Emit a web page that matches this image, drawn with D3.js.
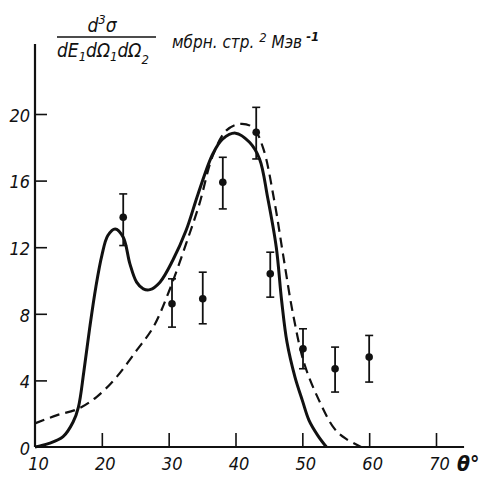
<!DOCTYPE html>
<html>
<head>
<meta charset="utf-8">
<script src="https://cdn.jsdelivr.net/npm/d3@7"></script>
<style>
  body { margin: 0; background: #fff; }
  svg text { font-family: "Liberation Sans Narrow", "DejaVu Sans Condensed", "Liberation Sans", sans-serif; font-style: italic; fill: #111; }
</style>
</head>
<body>
<div id="chart"></div>
<script>
// measured points with error bars
const pointAngles = [23.2, 30.5, 35.1, 38.1, 43.1, 45.2, 50.1, 54.9, 60.0]
const pointValues = [13.8, 8.6, 8.9, 15.9, 18.9, 10.4, 5.9, 4.7, 5.4]
const errLow = [12.1, 7.2, 7.4, 14.3, 17.3, 9.0, 4.7, 3.3, 3.9]
const errHigh = [15.2, 10.1, 10.5, 17.4, 20.4, 11.7, 7.1, 6.0, 6.7]

// solid theory curve
const solidAngles = [10, 12, 14.2, 15.7, 16.5, 17.3, 18.2, 19.1, 20.0, 20.9, 22.0, 23.2, 24.2, 25.2, 26.2, 27.2, 28.7, 30.6, 32.6, 34.4, 36.6, 38.1, 40.0, 42.1, 43.6, 44.8, 46.1, 46.9, 47.7, 48.9, 50.0, 51.0, 52.3, 53.6]
const solidValues = [0, 0.2, 0.62, 1.5, 2.4, 4.5, 7.2, 9.6, 11.5, 12.7, 13.1, 12.6, 11.0, 9.9, 9.5, 9.45, 9.9, 11.2, 13.0, 15.2, 17.6, 18.5, 18.85, 18.3, 17.3, 15.0, 12.0, 8.8, 6.3, 4.2, 2.8, 1.6, 0.7, 0]

// dashed theory curve
const dashedAngles = [10, 13.2, 16.5, 19.2, 22.2, 25.2, 27.7, 30.1, 32.6, 34.6, 36.6, 38.6, 40.6, 42.6, 44.1, 45.8, 47.1, 48.6, 50.3, 52.5, 54.8, 56.5, 58.8]
const dashedValues = [1.42, 1.9, 2.3, 3.0, 4.2, 5.8, 7.2, 9.4, 12.2, 14.6, 17.5, 19.0, 19.4, 19.2, 18.0, 14.8, 11.6, 8.0, 5.0, 2.8, 1.1, 0.5, 0]

const xTicks = [10, 20, 30, 40, 50, 60, 70]
const yTicks = [0, 4, 8, 12, 16, 20]

const width = 483, height = 478

const svg = d3.select("#chart").append("svg")
  .attr("width", width)
  .attr("height", height)

const x = d3.scaleLinear().domain([10, 70]).range([35, 436])
const y = d3.scaleLinear().domain([0, 20]).range([447, 114])

// axes: ticks point inward
const xAxis = svg.append("g")
  .attr("transform", `translate(0, ${y(0)})`)
  .call(d3.axisBottom(x).tickValues(xTicks).tickSizeInner(-14).tickSizeOuter(0).tickPadding(23))
xAxis.select(".domain").remove()
xAxis.selectAll("line").attr("stroke", "#111").attr("stroke-width", 1.6)
xAxis.selectAll("line").filter(d => d === 10).remove()
xAxis.selectAll("text").attr("font-size", 18).attr("dx", 3).attr("dy", 0).style("font-family", null)

const yAxis = svg.append("g")
  .attr("transform", `translate(${x(10)}, 0)`)
  .call(d3.axisLeft(y).tickValues(yTicks).tickSizeInner(-12).tickSizeOuter(0).tickPadding(5))
yAxis.select(".domain").remove()
yAxis.selectAll("line").attr("stroke", "#111").attr("stroke-width", 1.6)
yAxis.selectAll("line").filter(d => d === 0).remove()
yAxis.selectAll("text").attr("font-size", 18).attr("dy", "0.4em").style("font-family", null)

svg.append("line")
  .attr("x1", x(10)).attr("x2", x(74.2))
  .attr("y1", y(0)).attr("y2", y(0))
  .attr("stroke", "#111").attr("stroke-width", 2.2)
svg.append("line")
  .attr("x1", x(10)).attr("x2", x(10))
  .attr("y1", y(0)).attr("y2", y(24.2))
  .attr("stroke", "#111").attr("stroke-width", 2.2)

svg.append("text")
  .attr("x", 457).attr("y", 471)
  .attr("font-size", 21).attr("font-weight", "bold")
  .text("θ°")

// curves
const line = d3.line()
  .x(d => x(d[0]))
  .y(d => y(d[1]))
  .curve(d3.curveCatmullRom)

svg.append("path")
  .datum(d3.zip(dashedAngles, dashedValues))
  .attr("d", line)
  .attr("fill", "none")
  .attr("stroke", "#111")
  .attr("stroke-width", 2.2)
  .attr("stroke-dasharray", "10,6")

svg.append("path")
  .datum(d3.zip(solidAngles, solidValues))
  .attr("d", line)
  .attr("fill", "none")
  .attr("stroke", "#111")
  .attr("stroke-width", 3)

// points
const pts = svg.append("g").selectAll("g")
  .data(d3.range(pointAngles.length))
  .join("g")

pts.append("line")
  .attr("x1", i => x(pointAngles[i])).attr("x2", i => x(pointAngles[i]))
  .attr("y1", i => y(errLow[i])).attr("y2", i => y(errHigh[i]))
  .attr("stroke", "#111").attr("stroke-width", 1.8)
pts.append("line")
  .attr("x1", i => x(pointAngles[i]) - 4).attr("x2", i => x(pointAngles[i]) + 4)
  .attr("y1", i => y(errHigh[i])).attr("y2", i => y(errHigh[i]))
  .attr("stroke", "#111").attr("stroke-width", 1.6)
pts.append("line")
  .attr("x1", i => x(pointAngles[i]) - 4).attr("x2", i => x(pointAngles[i]) + 4)
  .attr("y1", i => y(errLow[i])).attr("y2", i => y(errLow[i]))
  .attr("stroke", "#111").attr("stroke-width", 1.6)
pts.append("circle")
  .attr("cx", i => x(pointAngles[i]))
  .attr("cy", i => y(pointValues[i]))
  .attr("r", 3.8)
  .attr("fill", "#111")

// y label: fraction and units
const lab = svg.append("g")
lab.append("text")
  .attr("x", 102).attr("y", 32).attr("text-anchor", "middle").attr("font-size", 19)
  .html('d<tspan dy="-8" font-size="13">3</tspan><tspan dy="8">σ</tspan>')
lab.append("line")
  .attr("x1", 57).attr("x2", 156).attr("y1", 37).attr("y2", 37)
  .attr("stroke", "#111").attr("stroke-width", 1.5)
lab.append("text")
  .attr("x", 57).attr("y", 57).attr("font-size", 19)
  .html('dE<tspan dy="4" font-size="13">1</tspan><tspan dy="-4">dΩ</tspan><tspan dy="4" font-size="13">1</tspan><tspan dy="-4">dΩ</tspan><tspan dy="7" font-size="13">2</tspan>')
lab.append("text")
  .attr("x", 172).attr("y", 48).attr("font-size", 17)
  .html('мбрн. стр. <tspan dy="-6" font-size="13">2</tspan><tspan dy="6"> Мэв</tspan><tspan dy="-7" font-size="13" font-weight="bold"> -1</tspan>')
</script>
</body>
</html>
